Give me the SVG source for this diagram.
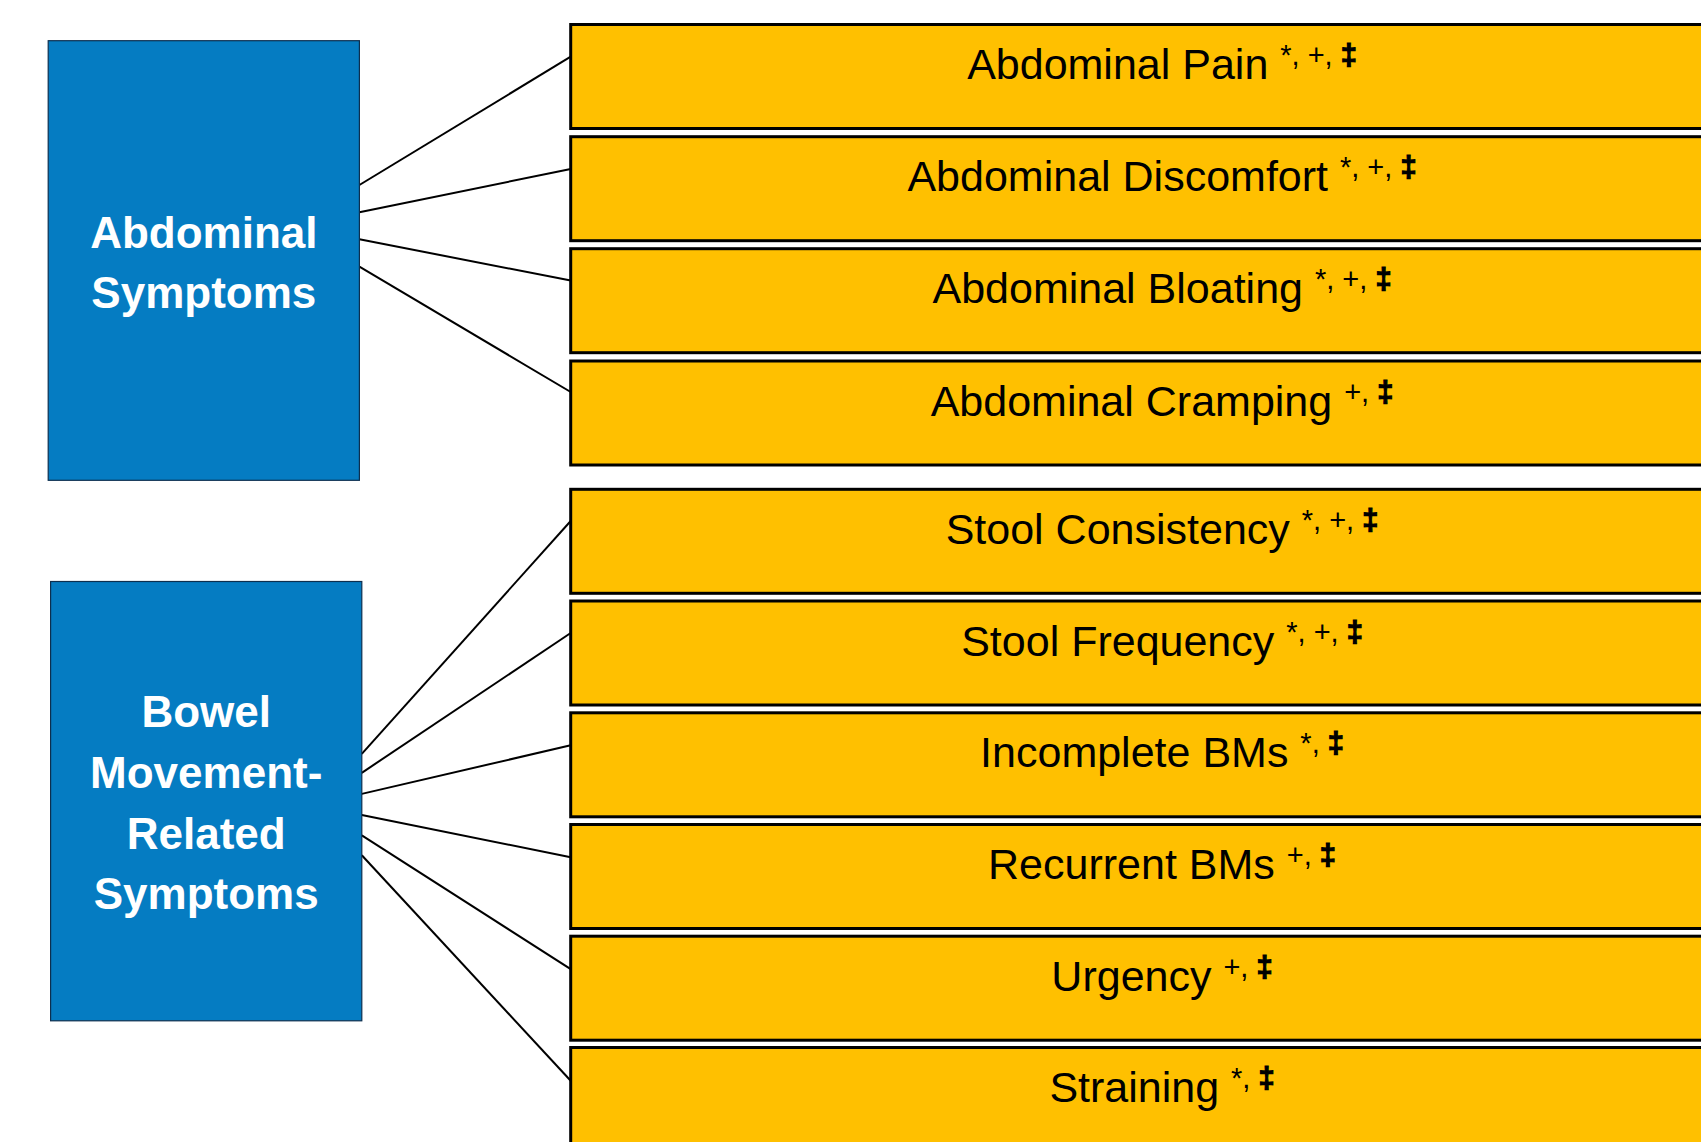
<svg xmlns="http://www.w3.org/2000/svg" width="1701" height="1142" viewBox="0 0 1701 1142">
<style>
.cat{fill:#057CC2;stroke:#0d2f4f;stroke-width:1.2}
.cat-t{font-family:"Liberation Sans",Arial,sans-serif;font-weight:bold;font-size:44px;fill:#fff;text-anchor:middle}
.sym{fill:#FFC000;stroke:#000;stroke-width:3}
.sym-t{font-family:"Liberation Sans",Arial,sans-serif;font-size:43px;fill:#000;text-anchor:middle}
.sup{font-size:29px}
.dg{font-weight:bold;stroke:#000;stroke-width:1.2}
.edge{stroke:#000;stroke-width:2;fill:none}
</style>
<rect width="1701" height="1142" fill="#fff"/>
<g id="connectors">
<line class="edge" x1="359.4" y1="185" x2="570.7" y2="56.7"/>
<line class="edge" x1="359.4" y1="212.3" x2="570.7" y2="169"/>
<line class="edge" x1="359.4" y1="239.3" x2="570.7" y2="280.5"/>
<line class="edge" x1="359.4" y1="266.7" x2="570.7" y2="392"/>
<line class="edge" x1="361.8" y1="753.8" x2="570.7" y2="521"/>
<line class="edge" x1="361.8" y1="772.8" x2="570.7" y2="633"/>
<line class="edge" x1="361.8" y1="793.9" x2="570.7" y2="745.3"/>
<line class="edge" x1="361.8" y1="815" x2="570.7" y2="857.3"/>
<line class="edge" x1="361.8" y1="835.3" x2="570.7" y2="969.2"/>
<line class="edge" x1="361.8" y1="855.2" x2="570.7" y2="1080.8"/>
</g>
<g id="abdominal-symptoms">
<rect class="cat" x="48.2" y="40.7" width="311.2" height="439.6"/>
<text class="cat-t" x="203.8" y="247.5">Abdominal</text>
<text class="cat-t" x="203.8" y="307.5">Symptoms</text>
</g>
<g id="bowel-movement-related-symptoms">
<rect class="cat" x="50.6" y="581.5" width="311.2" height="439.3"/>
<text class="cat-t" x="206.2" y="726.5">Bowel</text>
<text class="cat-t" x="206.2" y="787.5">Movement-</text>
<text class="cat-t" x="206.2" y="848.5">Related</text>
<text class="cat-t" x="206.2" y="908.5">Symptoms</text>
</g>
<g id="abdominal-pain">
<rect class="sym" x="570.7" y="24.5" width="1182.6" height="104"/>
<text class="sym-t" x="1162" y="78.8">Abdominal Pain <tspan class="sup" dy="-14">*, +, <tspan class="dg">‡</tspan></tspan></text>
</g>
<g id="abdominal-discomfort">
<rect class="sym" x="570.7" y="136.7" width="1182.6" height="104"/>
<text class="sym-t" x="1162" y="191">Abdominal Discomfort <tspan class="sup" dy="-14">*, +, <tspan class="dg">‡</tspan></tspan></text>
</g>
<g id="abdominal-bloating">
<rect class="sym" x="570.7" y="248.7" width="1182.6" height="104"/>
<text class="sym-t" x="1162" y="303">Abdominal Bloating <tspan class="sup" dy="-14">*, +, <tspan class="dg">‡</tspan></tspan></text>
</g>
<g id="abdominal-cramping">
<rect class="sym" x="570.7" y="361" width="1182.6" height="104"/>
<text class="sym-t" x="1162" y="415.5">Abdominal Cramping <tspan class="sup" dy="-14">+, <tspan class="dg">‡</tspan></tspan></text>
</g>
<g id="stool-consistency">
<rect class="sym" x="570.7" y="489.3" width="1182.6" height="104"/>
<text class="sym-t" x="1162" y="543.8">Stool Consistency <tspan class="sup" dy="-14">*, +, <tspan class="dg">‡</tspan></tspan></text>
</g>
<g id="stool-frequency">
<rect class="sym" x="570.7" y="601" width="1182.6" height="104"/>
<text class="sym-t" x="1162" y="655.5">Stool Frequency <tspan class="sup" dy="-14">*, +, <tspan class="dg">‡</tspan></tspan></text>
</g>
<g id="incomplete-bms">
<rect class="sym" x="570.7" y="712.8" width="1182.6" height="104"/>
<text class="sym-t" x="1162" y="767.3">Incomplete BMs <tspan class="sup" dy="-14">*, <tspan class="dg">‡</tspan></tspan></text>
</g>
<g id="recurrent-bms">
<rect class="sym" x="570.7" y="824.5" width="1182.6" height="104"/>
<text class="sym-t" x="1162" y="879">Recurrent BMs <tspan class="sup" dy="-14">+, <tspan class="dg">‡</tspan></tspan></text>
</g>
<g id="urgency">
<rect class="sym" x="570.7" y="936.2" width="1182.6" height="104"/>
<text class="sym-t" x="1162" y="990.7">Urgency <tspan class="sup" dy="-14">+, <tspan class="dg">‡</tspan></tspan></text>
</g>
<g id="straining">
<rect class="sym" x="570.7" y="1047.5" width="1182.6" height="104"/>
<text class="sym-t" x="1162" y="1102">Straining <tspan class="sup" dy="-14">*, <tspan class="dg">‡</tspan></tspan></text>
</g>
</svg>
